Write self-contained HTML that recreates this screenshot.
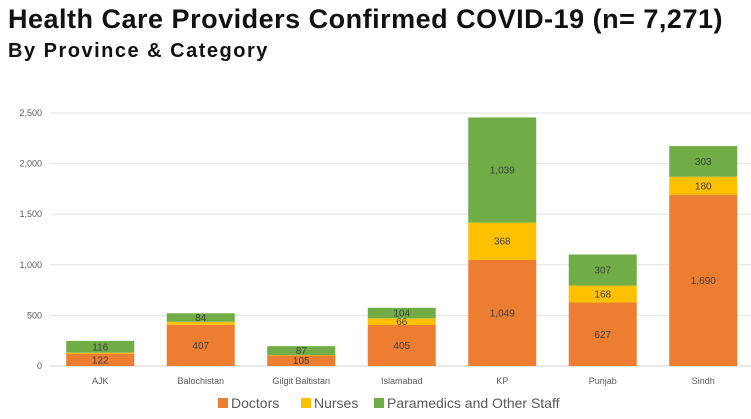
<!DOCTYPE html>
<html><head><meta charset="utf-8"><style>
body{margin:0;width:751px;height:419px;background:#fff;overflow:hidden;font-family:"Liberation Sans",sans-serif}
h1{position:absolute;left:8px;top:4px;margin:0;font-size:27px;font-weight:bold;color:#111;letter-spacing:0.5px;white-space:nowrap}
h2{position:absolute;left:8px;top:40px;margin:0;font-size:20px;font-weight:bold;color:#111;letter-spacing:1.5px;white-space:nowrap}
svg{position:absolute;left:0;top:0}
</style></head><body>
<h1>Health Care Providers Confirmed COVID-19 (n= 7,271)</h1>
<h2>By Province &amp; Category</h2>
<svg id="c" width="751" height="419"></svg>
<script>
const categories=["AJK","Balochistan","Gilgit Baltistan","Islamabad","KP","Punjab","Sindh"];
const doctors=[122,407,105,405,1049,627,1690];
const nurses=[10,30,4,66,368,168,180];
const paramedics=[116,84,87,104,1039,307,303];
const nurseLabels=[false,false,false,true,true,true,true];
const yTicks=[0,500,1000,1500,2000,2500];
const seriesNames=["Doctors","Nurses","Paramedics and Other Staff"];
const colors=["#ED7D31","#FFC000","#70AD47"];
const NS="http://www.w3.org/2000/svg",svg=document.getElementById('c');
const x0=50,band=100.5,bw=68,yb=366,yt=113,ymax=2500;
const y=v=>yb-(v/ymax)*(yb-yt);
const xc=i=>x0+band*(i+0.5);
function mk(t,a,txt){const e=document.createElementNS(NS,t);for(const k in a)e.setAttribute(k,a[k]);if(txt!=null)e.textContent=txt;svg.appendChild(e);return e;}
yTicks.forEach(t=>{
 const g=mk('line',{x1:x0,x2:751,y1:y(t),y2:y(t),stroke:t?'#e4e4e4':'#d0d0d0','stroke-width':1});
 
 
 const l=mk('text',{x:42,y:y(t)+3,'text-anchor':'end','font-size':9,fill:'#595959'},t.toLocaleString('en-US'));
 
 
});
const series=[doctors,nurses,paramedics];
categories.forEach((c,i)=>{
 let base=0;
 series.forEach((s,k)=>{
  const v=s[i];
  const r=mk('rect',{x:xc(i)-bw/2,y:y(base+v),width:bw,height:y(base)-y(base+v),fill:colors[k]});
  
  
  if(k!==1||nurseLabels[i]){
   const t=mk('text',{x:xc(i),y:(y(base)+y(base+v))/2+3.5,'text-anchor':'middle','font-size':10,fill:'#404040'},v.toLocaleString('en-US'));
   
   
  }
  base+=v;
 });
 const l=mk('text',{x:xc(i),y:384,'text-anchor':'middle','font-size':9,fill:'#595959'},c);
 
 
});
const lx=[218,301,374];
seriesNames.forEach((n,k)=>{
 const r=mk('rect',{x:lx[k],y:398,width:10,height:10,fill:colors[k]});
 
 
 const t=mk('text',{x:lx[k]+13,y:408,'font-size':14,fill:'#595959'},n);
 
 
});
</script>
</body></html>
